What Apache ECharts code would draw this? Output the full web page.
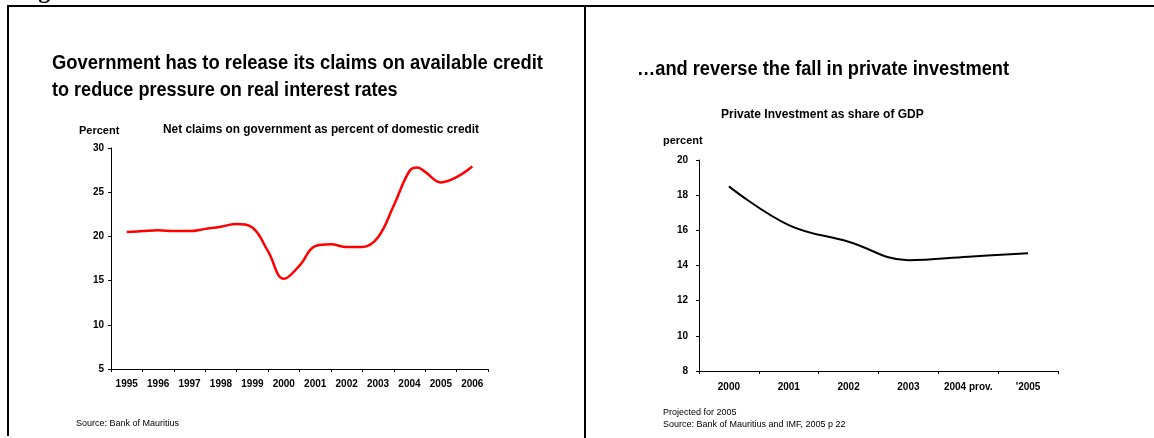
<!DOCTYPE html>
<html>
<head>
<meta charset="utf-8">
<script src="https://cdn.jsdelivr.net/npm/echarts@6/dist/echarts.min.js"></script>
<style>
  html, body { margin: 0; padding: 0; background: #fff; }
  #chart { width: 1154px; height: 438px; }
</style>
</head>
<body>
<div id="chart"></div>
<script>
// Net claims on government as percent of domestic credit (half-yearly readings)
const claimYears = [
  1995.0, 1995.5, 1996.0, 1996.5, 1997.0, 1997.5, 1998.0, 1998.5,
  1999.0, 1999.5, 2000.0, 2000.5, 2001.0, 2001.5, 2002.0, 2002.5,
  2003.0, 2003.5, 2004.0, 2004.25, 2004.5, 2005.0, 2005.5, 2006.0
];
const claimValues = [
  20.5, 20.6, 20.7, 20.6, 20.6, 20.85, 21.1, 21.4,
  21.0, 18.3, 15.2, 16.7, 18.9, 19.1, 18.8, 18.8,
  19.9, 23.5, 27.4, 27.8, 27.3, 26.1, 26.7, 27.9
];
const claimYearLabels = ['1995', '1996', '1997', '1998', '1999', '2000',
  '2001', '2002', '2003', '2004', '2005', '2006'];
const claimTicks = { min: 5, max: 30, interval: 5 };

// Private investment as share of GDP
const investYears = ['2000', '2001', '2002', '2003', '2004 prov.', "'2005"];
const investValues = [18.5, 16.3, 15.35, 14.3, 14.5, 14.7];
const investTicks = { min: 8, max: 20, interval: 2 };

const sans = '"Liberation Sans", Arial, sans-serif';
const headFont = 'bold 20px ' + sans;

// condensed headings: squeeze a bold face horizontally to a given run length
const measureCtx = document.createElement('canvas').getContext('2d');
function squeezed(text, font, x, y, width) {
  measureCtx.font = font;
  const w = measureCtx.measureText(text).width;
  return {
    type: 'text', x: x, y: y, scaleX: width / w, scaleY: 1,
    style: { text: text, font: font, fill: '#000', align: 'left', verticalAlign: 'middle' }
  };
}
function label(text, font, x, y) {
  return {
    type: 'text', x: x, y: y,
    style: { text: text, font: font, fill: '#000', align: 'left', verticalAlign: 'middle' }
  };
}

const chart = echarts.init(document.getElementById('chart'), null, { renderer: 'canvas' });

const axisLine = { show: true, lineStyle: { color: '#000', width: 1 } };
const axisTick = { show: true, length: 3, lineStyle: { color: '#000', width: 1 } };
const tickFont = { color: '#000', fontFamily: sans, fontWeight: 'bold', fontSize: 10 };

chart.setOption({
  animation: false,
  backgroundColor: '#fff',
  grid: [
    { left: 111, top: 148, width: 377, height: 221 },
    { left: 699, top: 160, width: 359, height: 211 }
  ],
  xAxis: [
    {
      type: 'category', gridIndex: 0, data: claimYearLabels, boundaryGap: true,
      axisLine, axisTick,
      axisLabel: Object.assign({ margin: 10, interval: 0 }, tickFont),
      splitLine: { show: false }
    },
    {
      type: 'value', gridIndex: 0, min: 1994.5, max: 2006.5,
      show: false, splitLine: { show: false }
    },
    {
      type: 'category', gridIndex: 1, data: investYears, boundaryGap: true,
      axisLine, axisTick,
      axisLabel: Object.assign({ margin: 11, interval: 0 }, tickFont),
      splitLine: { show: false }
    }
  ],
  yAxis: [
    {
      type: 'value', gridIndex: 0,
      min: claimTicks.min, max: claimTicks.max, interval: claimTicks.interval,
      axisLine, axisTick,
      axisLabel: Object.assign({ margin: 7 }, tickFont),
      splitLine: { show: false }
    },
    {
      type: 'value', gridIndex: 1,
      min: investTicks.min, max: investTicks.max, interval: investTicks.interval,
      axisLine, axisTick,
      axisLabel: Object.assign({ margin: 11 }, tickFont),
      splitLine: { show: false }
    }
  ],
  series: [
    {
      type: 'line', xAxisIndex: 1, yAxisIndex: 0,
      data: claimYears.map((y, i) => [y, claimValues[i]]),
      smooth: 0.4, symbol: 'none',
      lineStyle: { color: '#ff0000', width: 2.5 }
    },
    {
      type: 'line', xAxisIndex: 2, yAxisIndex: 1,
      data: investValues,
      smooth: 0.4, symbol: 'none',
      lineStyle: { color: '#000', width: 2 }
    }
  ],
  graphic: [
    // frame lines
    { type: 'line', shape: { x1: 7, y1: 6, x2: 1154, y2: 6 }, style: { stroke: '#000', lineWidth: 2 } },
    { type: 'line', shape: { x1: 8, y1: 5, x2: 8, y2: 436 }, style: { stroke: '#000', lineWidth: 2 } },
    { type: 'line', shape: { x1: 585, y1: 6, x2: 585, y2: 438 }, style: { stroke: '#000', lineWidth: 2 } },
    // heading above the frame, mostly outside the page
    { type: 'text', left: 17, top: -20, style: { text: 'Figure', font: 'bold 24px "Liberation Serif", "Times New Roman", serif', fill: '#000' } },

    // left panel texts
    squeezed('Government has to release its claims on available credit', headFont, 52, 63, 491),
    squeezed('to reduce pressure on real interest rates', headFont, 52, 90, 491 * 0.704),
    label('Percent', 'bold 11px ' + sans, 79, 130.5),
    squeezed('Net claims on government as percent of domestic credit', 'bold 12px ' + sans, 163, 130, 316),
    label('Source: Bank of Mauritius', '9px ' + sans, 76, 424),

    // right panel texts
    squeezed('\u2026and reverse the fall in private investment', headFont, 637, 69, 372),
    label('Private Investment as share of GDP', 'bold 12px ' + sans, 721, 115),
    label('percent', 'bold 11px ' + sans, 663, 141),
    label('Projected for 2005', '9px ' + sans, 663, 413),
    label('Source: Bank of Mauritius and IMF, 2005 p 22', '9px ' + sans, 663, 425)
  ]
});
</script>
</body>
</html>
